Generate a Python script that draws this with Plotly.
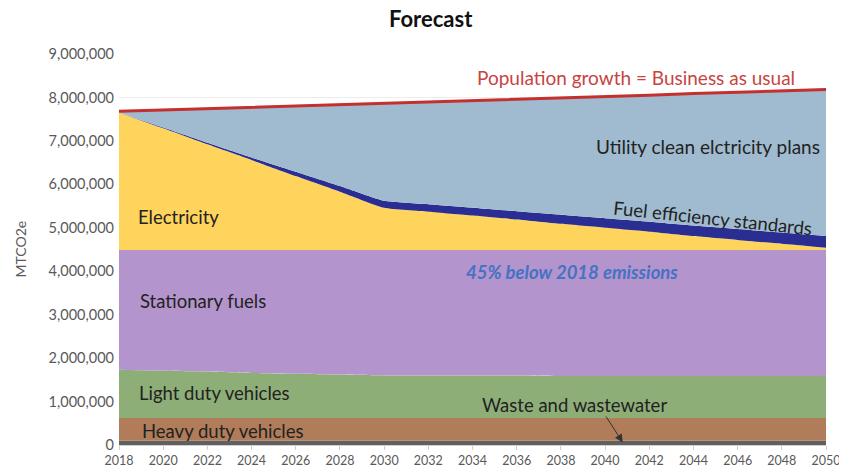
"""Stacked-area emissions forecast."""

from plotly import graph_objects as go

years = list(range(2018, 2051, 2))

waste = [0.10e6] * 17
heavy = [0.52e6] * 17
light = [1.11e6, 1.09e6, 1.07e6, 1.04e6, 1.02e6, 1.00e6, 0.98e6, 0.98e6, 0.98e6,
         0.98e6, 0.97e6, 0.97e6, 0.97e6, 0.97e6, 0.97e6, 0.97e6, 0.97e6]
stationary = [2.76e6, 2.78e6, 2.80e6, 2.83e6, 2.85e6, 2.87e6, 2.89e6, 2.89e6, 2.89e6,
              2.89e6, 2.90e6, 2.90e6, 2.90e6, 2.90e6, 2.90e6, 2.90e6, 2.90e6]
electricity = [3.16e6, 2.80e6, 2.43e6, 2.07e6, 1.70e6, 1.34e6, 0.97e6, 0.88e6, 0.79e6,
               0.70e6, 0.60e6, 0.51e6, 0.42e6, 0.32e6, 0.23e6, 0.14e6, 0.05e6]
fuel_eff = [0.00e6, 0.02e6, 0.04e6, 0.06e6, 0.10e6, 0.13e6, 0.16e6, 0.17e6, 0.18e6,
            0.19e6, 0.21e6, 0.22e6, 0.23e6, 0.24e6, 0.25e6, 0.26e6, 0.27e6]
utility = [0.03e6, 0.40e6, 0.78e6, 1.15e6, 1.51e6, 1.88e6, 2.25e6, 2.36e6, 2.47e6,
           2.58e6, 2.69e6, 2.80e6, 2.91e6, 3.04e6, 3.15e6, 3.26e6, 3.37e6]
population = [7.68e6, 7.71e6, 7.74e6, 7.77e6, 7.80e6, 7.84e6, 7.87e6, 7.90e6, 7.93e6,
              7.96e6, 7.99e6, 8.02e6, 8.05e6, 8.09e6, 8.12e6, 8.15e6, 8.18e6]

layers = [
    ("Waste and wastewater", waste, "#606060"),
    ("Heavy duty vehicles", heavy, "#B07C5A"),
    ("Light duty vehicles", light, "#8EAE78"),
    ("Stationary fuels", stationary, "#B494CC"),
    ("Electricity", electricity, "#FFD45C"),
    ("Fuel efficiency standards", fuel_eff, "#2A2E93"),
    ("Utility clean electricity plans", utility, "#A0BBD0"),
]

fig = go.Figure()
for name, vals, color in layers:
    fig.add_trace(go.Scatter(
        x=years, y=vals, name=name, stackgroup="one", mode="lines",
        line={"width": 0, "color": color, "shape": "spline", "smoothing": 0.5},
        fillcolor=color,
    ))
fig.add_trace(go.Scatter(
    x=years, y=population, name="Population growth", mode="lines",
    line={"width": 3, "color": "#C4302E"},
))

dark = "#222222"
notes = [
    ("Population growth = Business as usual", 2041.4, 8.46e6, "#C8443F", 19, 0),
    ("Utility clean elctricity plans", 2044.65, 6.87e6, dark, 19, 0),
    ("Fuel efficiency standards", 2044.9, 5.23e6, dark, 18.5, 6),
    ("Electricity", 2020.7, 5.25e6, dark, 18.5, 0),
    ("<b><i>45% below 2018 emissions</i></b>", 2038.5, 3.99e6, "#4472C4", 18.5, 0),
    ("Stationary fuels", 2021.8, 3.32e6, dark, 18.5, 0),
    ("Light duty vehicles", 2022.3, 1.20e6, dark, 18.5, 0),
    ("Heavy duty vehicles", 2022.7, 0.32e6, dark, 18.5, 0),
    ("Waste and wastewater", 2038.6, 0.92e6, dark, 18.5, 0),
]
for text, x, y, color, size, angle in notes:
    fig.add_annotation(x=x, y=y, text=text, showarrow=False, textangle=angle,
                       font={"color": color, "size": size})

fig.add_annotation(x=2040.8, y=0.06e6, ax=2040.0, ay=0.69e6, axref="x", ayref="y",
                   text="", showarrow=True, arrowhead=2, arrowsize=1.6, arrowwidth=1,
                   arrowcolor="#333333")

fig.add_annotation(x=-0.14, y=0.5, xref="paper", yref="paper", text="MTCO2e",
                   showarrow=False, textangle=-90, xanchor="center",
                   font={"size": 14, "color": "#595959"})

# chart title, placed as an annotation above the plot area
fig.add_annotation(x=0.441, y=1.092, xref="paper", yref="paper", text="<b>Forecast</b>",
                   showarrow=False, xanchor="center", yanchor="middle",
                   font={"size": 22, "color": "#111111"})

# the page body adds an 8px offset, so the figure is made 8px smaller
fig.update_layout(
    width=839, height=468, template=None, showlegend=False,
    margin={"l": 111, "r": 21, "t": 46, "b": 31},
    paper_bgcolor="white", plot_bgcolor="white",
    font={"family": "Lato, Open Sans, sans-serif", "color": "#595959", "size": 13},
)
fig.update_xaxes(range=[2018, 2050], tickmode="array", tickvals=years,
                 showgrid=False, zeroline=False, showline=True, linecolor="#d0d0d0",
                 ticks="outside", ticklen=4, tickcolor="#d0d0d0",
                 tickfont={"size": 12.5})
fig.update_yaxes(range=[0, 9e6], dtick=1e6, tickformat=",d", showgrid=True,
                 gridcolor="#ececec", zeroline=False, showline=False,
                 tickfont={"size": 14.5}, ticklabelstandoff=4)

fig.write_html("out.html")
